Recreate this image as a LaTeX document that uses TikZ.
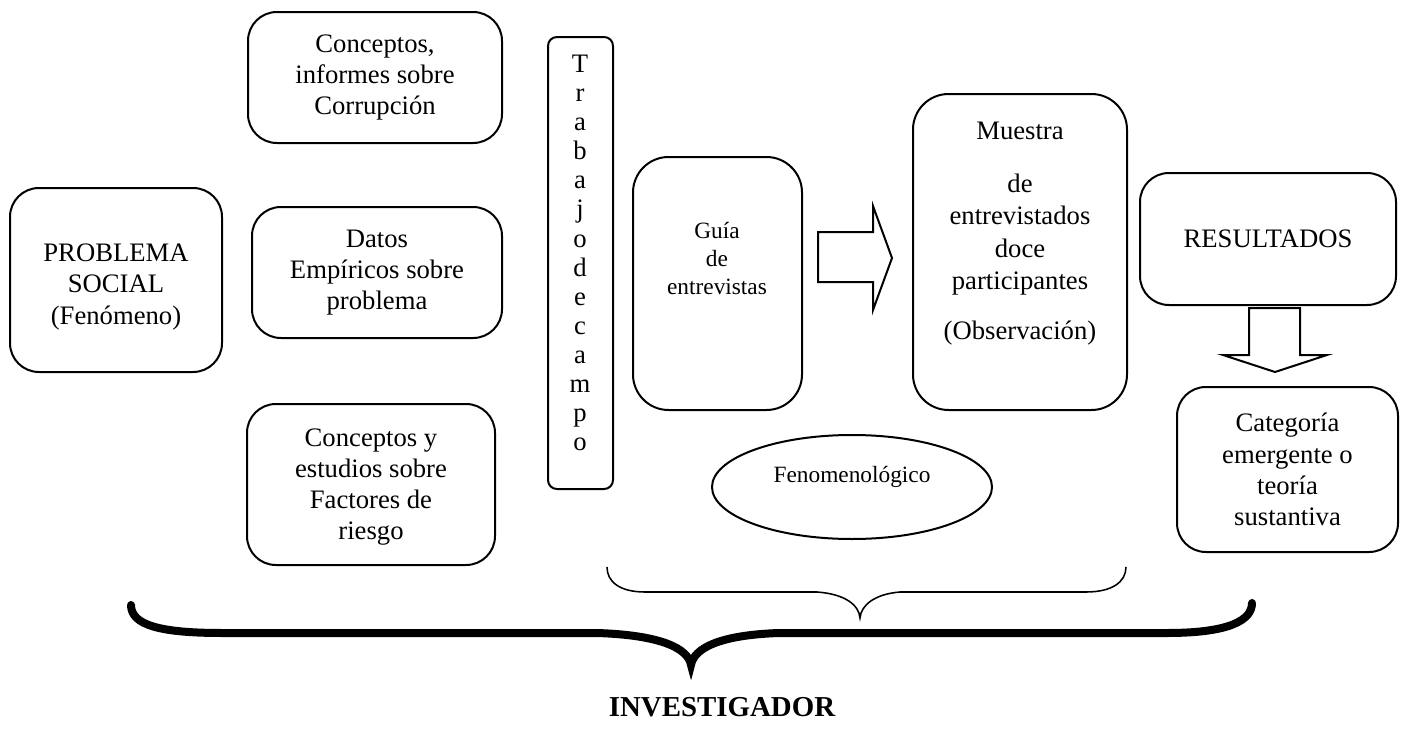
\documentclass[tikz,border=0pt]{standalone}
\usepackage{fontspec}
\setmainfont{Liberation Serif}

\begin{document}
\begin{tikzpicture}[x=0.45pt,y=-0.45pt,
  caja/.style={line width=0.9pt,rounded corners=13pt},
  texto/.style={align=center,font=\fontsize{12}{14}\selectfont},
  chico/.style={align=center,font=\fontsize{10.5}{12.6}\selectfont}]
  \useasboundingbox (0,0) rectangle (1403,736);
  \draw[caja] (10,188) rectangle (222,372);
  \node[texto] (problema) at (116,287) {PROBLEMA\\SOCIAL\\(Fenómeno)};
  \draw[caja] (248,12) rectangle (502,143) node [pos=0.5,texto] (corrupcion) {Conceptos,\\informes sobre\\Corrupción};
  \draw[caja] (252,207) rectangle (502,338) node [pos=0.5,texto] (datos) {Datos\\Empíricos sobre\\problema};
  \draw[caja] (247,404) rectangle (495,565);
  \node[texto] (riesgo) at (371,487) {Conceptos y\\estudios sobre\\Factores de\\riesgo};
  \draw[caja,rounded corners=4pt] (548,37) rectangle (613,489);
  \node[align=center,font=\fontsize{12}{13.1}\selectfont] (campo) at (580,253) {T\\r\\a\\b\\a\\j\\o\\d\\e\\c\\a\\m\\p\\o};
  \draw[caja,rounded corners=16pt] (633,157) rectangle (802,410);
  \node[chico] (guia) at (717,258) {Guía\\de\\entrevistas};
  \draw[line width=0.9pt] (818,232) -- (873,232) -- (873,206) -- (892,258) -- (873,310) -- (873,282) -- (818,282) -- cycle;
  \draw[caja,rounded corners=16pt] (913,94) rectangle (1127,410);
  \node[texto,font=\fontsize{12}{14.6}\selectfont] (muestra) at (1020,234) {Muestra\\[9pt]de\\entrevistados\\doce\\participantes\\[8pt](Observación)};
  \draw[caja] (1140,173) rectangle (1396,305) node [pos=0.5,texto] (resultados) {RESULTADOS};
  \draw[line width=0.9pt] (1249,308) -- (1300,308) -- (1300,355) -- (1327,355) -- (1275,372) -- (1223,355) -- (1249,355) -- cycle;
  \draw[caja] (1177,387) rectangle (1398,552) node [pos=0.5,texto] (categoria) {Categoría\\emergente o\\teoría\\sustantiva};
  \draw[line width=0.9pt] (852,487) ellipse [x radius=140,y radius=52];
  \node[chico] (fenomeno) at (852,477) {Fenomenológico};
  \draw[line width=0.7pt] (607,567) .. controls (607,582) and (620,592) .. (645,592) -- (817,592)
    .. controls (845,594) and (859,605) .. (860,618) .. controls (861,605) and (875,594) .. (900,592)
    -- (1086,592) .. controls (1112,592) and (1126,582) .. (1126,567);
  \draw[line width=3.6pt,line cap=round] (131,605) .. controls (131,625) and (160,633) .. (222,633) -- (597,633)
    .. controls (660,635) and (688,648) .. (691,665) .. controls (694,648) and (720,635) .. (779,633)
    -- (1167,633) .. controls (1230,633) and (1252,620) .. (1252,603);
  \node[font=\fontsize{13}{15}\selectfont\bfseries] (investigador) at (722,707) {INVESTIGADOR};
\end{tikzpicture}
\end{document}
